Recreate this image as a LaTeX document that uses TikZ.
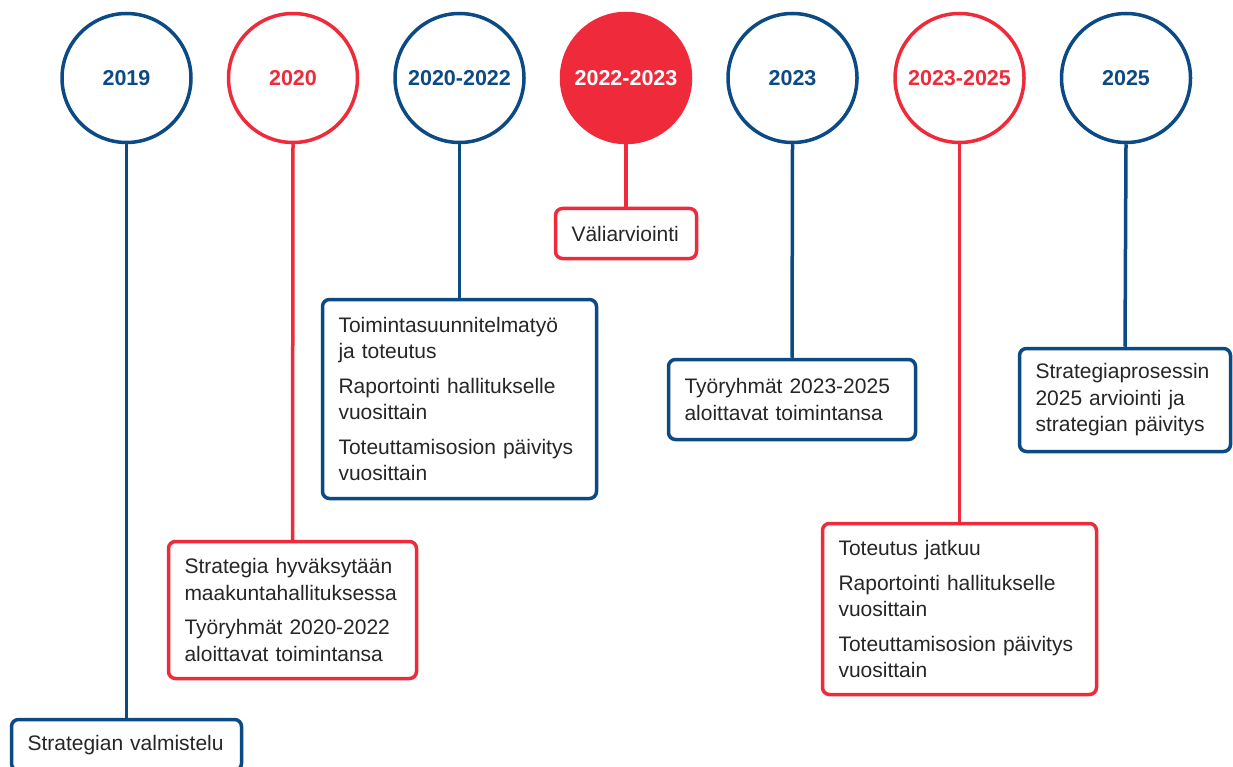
\documentclass[tikz,border=0pt]{standalone}
\usepackage{fontspec}
\setmainfont{Liberation Sans}
\definecolor{tblue}{HTML}{0B4A84}
\definecolor{tred}{HTML}{EE2A3B}
\tikzset{
  yr/.style={circle, line width=3.5pt, minimum size=129pt, inner sep=0pt, fill=white,
    font=\fontsize{21.5}{25}\selectfont\bfseries},
  yrblue/.style={yr, draw=tblue, text=tblue},
  yrred/.style={yr, draw=tred, text=tred},
  yrfill/.style={yr, draw=tred, fill=tred, text=white},
  tbox/.style={rectangle, rounded corners=7pt, line width=3.5pt, fill=white, align=left,
    inner xsep=16pt, inner ysep=0pt, text=black!85, font=\fontsize{21}{26.5}\selectfont},
  bluebox/.style={tbox, draw=tblue},
  redbox/.style={tbox, draw=tred},
  bline/.style={draw=tblue, line width=3.5pt},
  rline/.style={draw=tred, line width=3.5pt}
}
\begin{document}
\begin{tikzpicture}[x=1pt,y=-1pt]
\useasboundingbox (0,0) rectangle (1233,767);
% circles
\node[yrblue] (c1) at (126.5,78) {2019};
\node[yrred]  (c2) at (293,78) {2020};
\node[yrblue] (c3) at (459.5,78) {2020-2022};
\node[yrfill] (c4) at (626,78) {2022-2023};
\node[yrblue] (c5) at (792.5,78) {2023};
\node[yrred]  (c6) at (959.5,78) {2023-2025};
\node[yrblue] (c7) at (1126,78) {2025};
% boxes
\node[bluebox, text width=198pt, minimum height=51pt] (b1) at (126.5,745) {Strategian valmistelu};
\node[redbox, text width=216pt, minimum height=137pt] (b2) at (292.5,610)
  {Strategia hyväksytään\\maakuntahallituksessa\\[8pt]Työryhmät 2020-2022\\aloittavat toimintansa};
\node[bluebox, text width=242pt, minimum height=199pt] (b3) at (459.5,399)
  {Toimintasuunnitelmatyö\\ja toteutus\\[8pt]Raportointi hallitukselle\\vuosittain\\[8pt]Toteuttamisosion päivitys\\vuosittain};
\node[redbox, text width=109pt, minimum height=50pt] (b4) at (626,233.5) {Väliarviointi};
\node[bluebox, text width=215pt, minimum height=80pt] (b5) at (792,399.5)
  {Työryhmät 2023-2025\\aloittavat toimintansa};
\node[redbox, text width=242pt, minimum height=171pt] (b6) at (959.5,609)
  {Toteutus jatkuu\\[8pt]Raportointi hallitukselle\\vuosittain\\[8pt]Toteuttamisosion päivitys\\vuosittain};
\node[bluebox, text width=179pt, minimum height=103pt] (b7) at (1125,400)
  {Strategiaprosessin\\2025 arviointi ja\\strategian päivitys};
% connectors
\draw[bline] (c1.south) -- (b1.north);
\draw[rline] (c2.south) -- (b2.north);
\draw[bline] (c3.south) -- (b3.north);
\draw[rline] (c4.south) -- (b4.north);
\draw[bline] (c5.south) -- (b5.north);
\draw[rline] (c6.south) -- (b6.north);
\draw[bline] (c7.south) -- (b7.north);
\end{tikzpicture}
\end{document}
